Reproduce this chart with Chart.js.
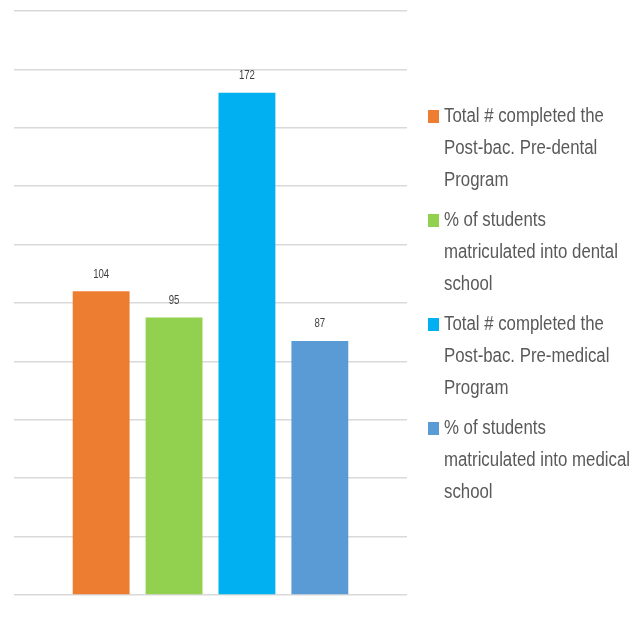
<!DOCTYPE html>
<html>
<head>
<meta charset="utf-8">
<script src="https://cdn.jsdelivr.net/npm/chart.js@4"></script>
<style>
  html, body { margin: 0; padding: 0; background: #ffffff; }
  #wrap { position: relative; width: 629px; height: 622px; overflow: hidden; }
  #c { position: absolute; left: 0; top: 0; }
  #legend { position: absolute; left: 428px; top: 99px; width: 205px;
            font-family: "Liberation Sans", Arial, sans-serif;
            font-size: 20px; color: #595959; }
  .item { position: relative; padding-left: 16px; margin-bottom: 8px; line-height: 32px; }
  .sw { position: absolute; left: 0; top: 11px; width: 11px; height: 13px; }
  .ln { white-space: nowrap; transform-origin: 0 50%; }
</style>
</head>
<body>
<div id="wrap">
  <canvas id="c" width="629" height="622"></canvas>
  <div id="legend"></div>
</div>
<script>
const categories = [""];
const seriesLabels = [
  ["Total # completed the", "Post-bac. Pre-dental", "Program"],
  ["% of students", "matriculated into dental", "school"],
  ["Total # completed the", "Post-bac. Pre-medical", "Program"],
  ["% of students", "matriculated into medical", "school"]
];
const seriesValues = [104, 95, 172, 87];
const seriesColors = ["#ED7D31", "#92D050", "#00B0F0", "#5B9BD5"];
const yTicks = { min: 0, max: 200, step: 20 };

const valueLabels = {
  id: 'valueLabels',
  afterDatasetsDraw(chart) {
    const ctx = chart.ctx;
    chart.data.datasets.forEach((ds, i) => {
      const meta = chart.getDatasetMeta(i);
      meta.data.forEach((el, j) => {
        ctx.save();
        ctx.font = '12px "Liberation Sans", Arial, sans-serif';
        ctx.fillStyle = '#404040';
        ctx.textAlign = 'center';
        ctx.textBaseline = 'middle';
        ctx.translate(el.x, el.y - 17);
        ctx.scale(0.8, 1);
        ctx.fillText(String(ds.data[j]), 0, 0);
        ctx.restore();
      });
    });
  }
};

const chart = new Chart(document.getElementById('c'), {
  type: 'bar',
  data: {
    labels: categories,
    datasets: seriesValues.map((v, i) => ({
      label: seriesLabels[i].join(' '),
      data: [v],
      backgroundColor: seriesColors[i],
      borderWidth: 0,
      categoryPercentage: 0.742,
      barPercentage: 0.78
    }))
  },
  options: {
    responsive: false,
    animation: false,
    layout: { padding: { left: 14, right: 222, top: 11, bottom: 19 } },
    plugins: { legend: { display: false }, tooltip: { enabled: false } },
    scales: {
      x: {
        grid: { display: false },
        border: { display: false },
        ticks: { display: false }
      },
      y: {
        min: yTicks.min, max: yTicks.max,
        ticks: { display: false, stepSize: yTicks.step },
        grid: { color: '#d9d9d9', lineWidth: 1.5, drawTicks: false },
        border: { display: false }
      }
    }
  },
  plugins: [valueLabels]
});

const leg = document.getElementById('legend');
const lines = [];
chart.data.datasets.forEach((ds, i) => {
  const item = document.createElement('div');
  item.className = 'item';
  const sw = document.createElement('span');
  sw.className = 'sw';
  sw.style.background = ds.backgroundColor;
  item.appendChild(sw);
  seriesLabels[i].forEach(line => {
    const d = document.createElement('div');
    d.className = 'ln';
    const s = document.createElement('span');
    s.textContent = line;
    d.appendChild(s);
    item.appendChild(d);
    lines.push(s);
  });
  leg.appendChild(item);
});
// condense the legend text to match the narrow original typeface
const ref = lines.find(s => s.textContent === "matriculated into medical");
const k = 186 / ref.getBoundingClientRect().width;
lines.forEach(s => { s.parentNode.style.transform = 'scaleX(' + k + ')'; });
</script>
</body>
</html>
